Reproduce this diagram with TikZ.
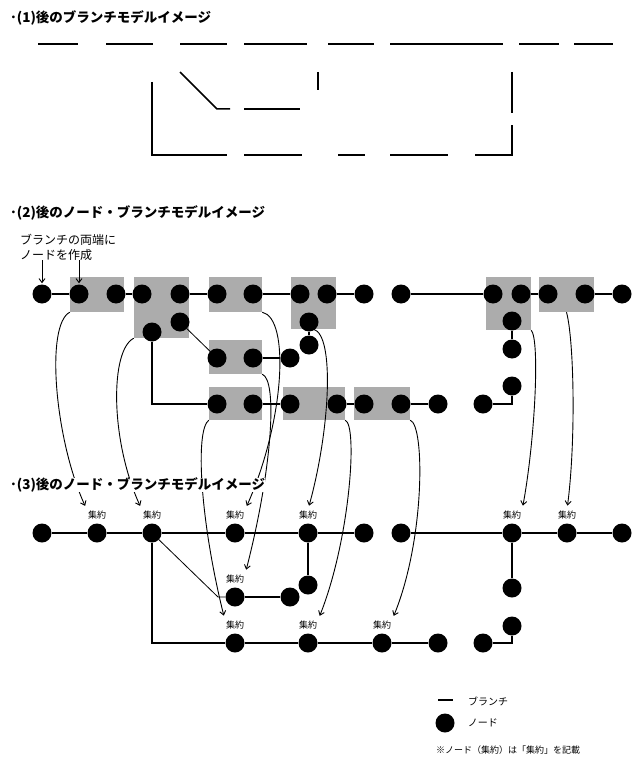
\documentclass[tikz,border=0pt]{standalone}
\usepackage{fontspec}
\setmainfont{Noto Sans CJK JP}
\usetikzlibrary{arrows.meta,positioning}
\definecolor{boxgray}{RGB}{172,172,172}

\begin{document}
\begin{tikzpicture}[x=1pt, y=-1pt,
    every node/.style={font=\fontsize{10}{12}\selectfont},
    title/.style={anchor=west, inner sep=0pt, font=\fontsize{13.5}{15}\selectfont\bfseries},
    dot/.style={circle, fill=black, inner sep=0pt, minimum size=19pt},
    grp/.style={fill=boxgray, inner sep=0pt},
    branch/.style={line width=1.5pt},
    link/.style={line width=0.9pt, -{Straight Barb[length=4pt,width=6pt]}},
    lbl/.style={inner sep=1pt, font=\fontsize{9}{10}\selectfont}]
  \useasboundingbox (0,0) rectangle (643,765);

  % (1) branches only
  \node[title] (head1) at (10,18) {･(1)後のブランチモデルイメージ};
  \foreach \a/\b in {38/78,106/153,180/227,244/307,328/374,390/503,519/559,574/613}
    \draw[branch] (\a,44) -- (\b,44);
  \draw[branch] (152,82) |- (227,155);
  \draw[branch] (180,72) -- (217,109) -- (230,109);
  \draw[branch] (244,109) -- (300,109);
  \draw[branch] (318,72) -- (318,90);
  \draw[branch] (512,72) -- (512,113);
  \foreach \a/\b in {244/302,338/365,390/448}
    \draw[branch] (\a,155) -- (\b,155);
  \draw[branch] (475,155) -| (512,125);

  % (2) nodes at both ends
  \node[title] (head2) at (10,213) {･(2)後のノード・ブランチモデルイメージ};
  \node[anchor=west, align=left, inner sep=0pt, font=\fontsize{12}{15}\selectfont]
    (note) at (20,247) {ブランチの両端に\\ノードを作成};

  % groups to merge
  \foreach \n/\cx/\cy/\w/\h in {g1/97/294.5/54/35, g2/161.5/307.5/55/61,
      g3/235.5/294.5/53/35, g4/313.5/303/45/52, g5/508.5/303.5/45/53,
      g6/566.5/294.5/55/35, g7/235.5/357/53/34, g8/235.5/403.5/53/33,
      g9/314/403.5/62/33, g10/382/403.5/56/33}
    \node[grp, minimum width=\w, minimum height=\h] (\n) at (\cx,\cy) {};

  \foreach \x [count=\i] in {42,79,116,142,180,217,253,300,327,364,401,493,521,548,585,622}
    \node[dot] (a\i) at (\x,294) {};
  \foreach \x [count=\i] in {217,253,290,337,364,401,438,483}
    \node[dot] (c\i) at (\x,404) {};
  \foreach \n/\x/\y in {b1/152/332, b2/180/322, b3/309/322, b4/512/321,
      m1/217/358, m2/253/358, m3/290/358, m4/309/345, m5/512/349, m6/512/386}
    \node[dot] (\n) at (\x,\y) {};

  \foreach \p/\q in {a1/a2,a3/a4,a5/a6,a7/a8,a9/a10,a11/a12,a13/a14,a15/a16,
      m2/m3,b3/m4,b4/m5,c2/c3,c4/c5,c6/c7}
    \draw[branch] (\p) -- (\q);
  \draw[branch] (b1) |- (c1);
  \draw[line width=0.8pt] (b2) -- (m1);
  \draw[branch] (c8) -| (m6);

  \draw[link, shorten >=1pt] (a1 |- note.south) -- (a1.north);
  \draw[link, shorten >=1pt] (a2 |- note.south) -- (a2.north);

  % (3) after merging
  \foreach \x [count=\i] in {42,97,152,235,308,364,401,512,567,622}
    \node[dot] (p\i) at (\x,533) {};
  \foreach \x [count=\i] in {235,308,382,438,483}
    \node[dot] (q\i) at (\x,643) {};
  \foreach \n/\x/\y in {r1/235/597, r2/290/597, r3/308/585, r4/512/588, r5/512/626}
    \node[dot] (\n) at (\x,\y) {};

  \foreach \p/\q in {p1/p2,p2/p3,p3/p4,p4/p5,p5/p6,p7/p8,p8/p9,p9/p10,
      r1/r2,p5/r3,p8/r4,q1/q2,q2/q3,q3/q4}
    \draw[branch] (\p) -- (\q);
  \draw[branch] (p3) |- (q1);
  \draw[line width=0.8pt] (p3) -- ([xshift=-17pt]r1.center) -- (r1);
  \draw[branch] (q5) -| (r5);

  \foreach \n in {p2,p3,p4,p5,p8,p9,r1,q1,q2,q3}
    \node[lbl, above=3pt of \n] (l\n) {集約};

  % which group goes where
  \draw[link, shorten >=4pt] (g1.south west) .. controls (45,325) and (55,440) .. (lp2.north west);
  \draw[link, shorten >=4pt] (g2.south west) .. controls (110,350) and (110,440) .. (lp3.north west);
  \draw[link, shorten >=4pt] (g3.south east) .. controls (290,318) and (285,420) .. (lp4.north east);
  \draw[link, shorten >=4pt] (g7.south east) .. controls (278,380) and (272,470) .. (lr1.north east);
  \draw[link, shorten >=4pt] (g8.south west) .. controls (195,430) and (200,520) .. (lq1.north west);
  \draw[link, shorten >=4pt] (g4.south) .. controls (335,335) and (330,430) .. (lp5.north);
  \draw[link, shorten >=4pt] (g9.south east) .. controls (358,425) and (350,540) .. (lq2.north east);
  \draw[link, shorten >=4pt] (g10.south east) .. controls (425,425) and (425,540) .. (lq3.north east);
  \draw[link, shorten >=4pt] (g5.south east) .. controls (540,340) and (535,440) .. (lp8.north east);
  \draw[link, shorten >=4pt] (g6.south) .. controls (574,340) and (576,440) .. (lp9.north);

  \node[title, fill=white] (head3) at (10,485) {･(3)後のノード・ブランチモデルイメージ};

  % legend
  \draw[branch] (438,700) -- (453,700);
  \node[anchor=west, inner sep=0pt] (legbranch) at (468,701) {ブランチ};
  \node[dot] (legdot) at (445,723) {};
  \node[right=13pt of legdot, inner sep=0pt] (legnode) {ノード};
  \node[anchor=west, inner sep=0pt, font=\fontsize{9}{10}\selectfont]
    (legnote) at (436,750) {※ノード（集約）は「集約」を記載};
\end{tikzpicture}
\end{document}
